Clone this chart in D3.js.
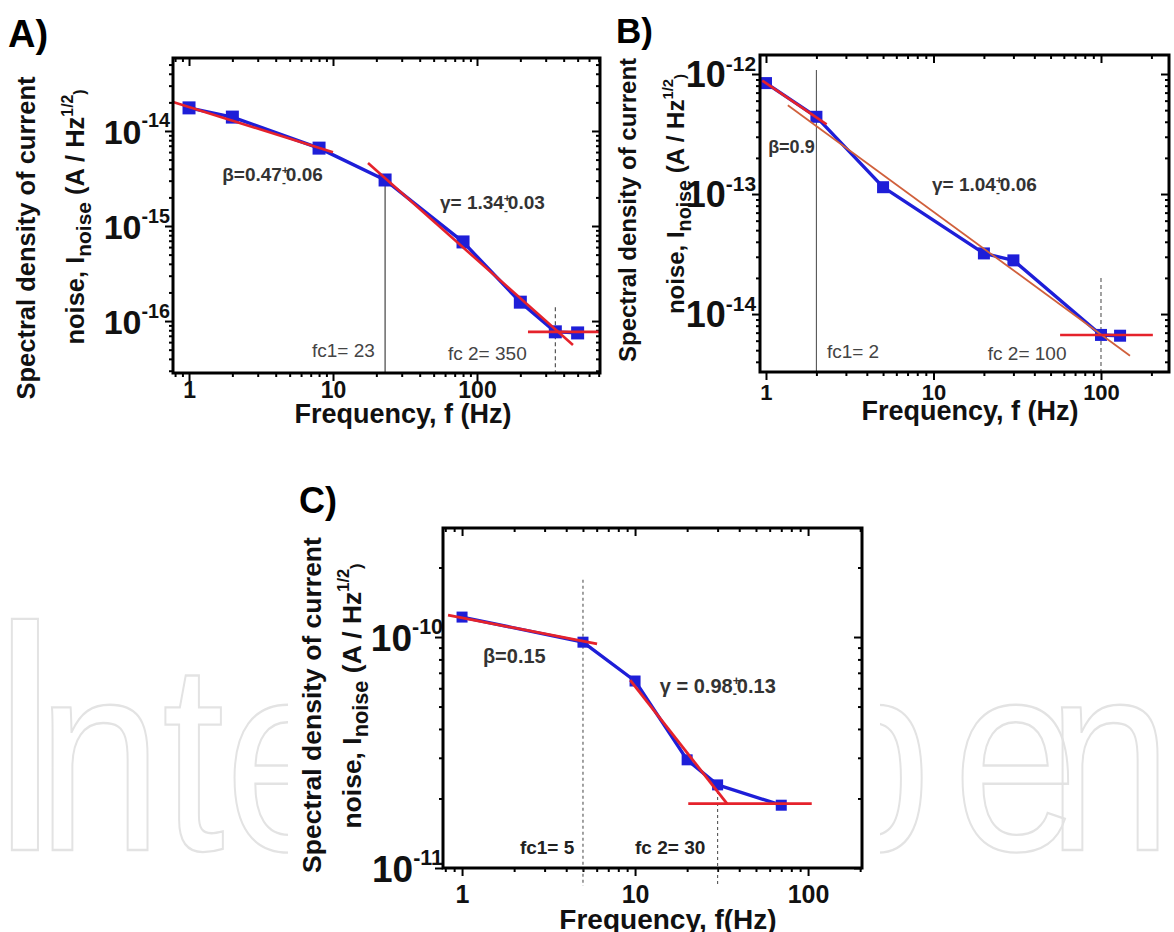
<!DOCTYPE html>
<html><head><meta charset="utf-8">
<script src="https://cdn.jsdelivr.net/npm/d3@7"></script>
<style>
body{margin:0;background:#fff;}
svg{display:block;}
</style></head><body>
<svg id="c" width="1174" height="932"></svg>
<script>
// ================= DATA =================
// Panel A
const freqA  = [1, 2, 8, 23, 80, 200, 350, 500];
const noiseA = [1.75e-14, 1.40e-14, 6.6e-15, 3.05e-15, 6.8e-16, 1.58e-16, 7.7e-17, 7.5e-17];
const fitA_beta  = [[0.774, 2.02e-14], [10, 5.96e-15]];
const fitA_gamma = [[17.5, 4.6e-15], [464, 5.6e-17]];
const fitA_floor = [[226, 7.7e-17], [715, 7.7e-17]];
const fcA    = [23, 350];
const fcTopA = [3.05e-15, 1.4e-16];

// Panel B
const freqB  = [1, 2, 5, 20, 30, 100, 130];
const noiseB = [8.4e-13, 4.4e-13, 1.14e-13, 3.2e-14, 2.8e-14, 6.7e-15, 6.6e-15];
const fitB_beta  = [[0.95, 8.8e-13], [2.3, 3.8e-13]];
const fitB_gamma = [[1.35, 5.5e-13], [149, 4.5e-15]];
const fitB_floor = [[57, 6.7e-15], [204, 6.7e-15]];
const fcB    = [2, 100];
const fcTopB = [1.08e-12, 2.0e-14];

// Panel C
const freqC  = [1, 5, 10, 20, 30, 70];
const noiseC = [1.22e-10, 9.5e-11, 6.45e-11, 2.94e-11, 2.29e-11, 1.87e-11];
const fitC_beta  = [[0.83, 1.245e-10], [6.03, 9.33e-11]];
const fitC_gamma = [[9.37, 6.5e-11], [34, 1.9e-11]];
const fitC_floor = [[20.3, 1.9e-11], [105, 1.9e-11]];
const fcC    = [5, 30];
const fcTopC = [1.77e-10, 2.29e-11];

// Tick labels
const xTickLabels = [1, 10, 100];
const yExpA = [-14, -15, -16];
const yExpB = [-12, -13, -14];
const yExpC = [-10, -11];

// ================= DRAWING =================
const FONT = '"Liberation Sans", Arial, Helvetica, sans-serif';
const svg = d3.select("#c").attr("font-family", FONT);
const BLUE = "#1e1ed8", RED = "#e5222b";

// watermark (only the parts visible around panel C)
const wmG = svg.append("g").attr("transform", "scale(1,1.2)");
function wmWord(letters){
  const t = wmG.append("text").attr("y", 850/1.2).attr("fill", "none")
    .attr("stroke", "#e3e3e3").attr("stroke-width", 2).attr("font-size", 225);
  letters.forEach(([ch, px, fs]) => t.append("tspan").attr("x", px).attr("font-size", fs || 225).text(ch));
}
wmWord([["I",-14,280],["n",37],["t",162],["e",225]]);
wmWord([["p",806],["e",953],["n",1047]]);
// panel C sits on an opaque white block
svg.append("rect").attr("x", 288).attr("y", 470).attr("width", 592).attr("height", 462).attr("fill", "#fff");

function isMajor(v){ const l = Math.log10(v); return Math.abs(l - Math.round(l)) < 1e-6; }

function addPM(t, before, after, fs){
  t.append("tspan").text(before);
  t.append("tspan").attr("font-size", fs*0.62).attr("dy", -fs*0.38).text("+");
  t.append("tspan").attr("font-size", fs*0.62).attr("dx", -fs*0.62*0.58).attr("dy", fs*0.62).text("-");
  t.append("tspan").attr("dy", -fs*0.24).text(after);
}

function drawPanel(c){
  const g = svg.append("g");
  const x = d3.scaleLog().domain(c.xDomain).range([c.L, c.R]);
  const y = d3.scaleLog().domain(c.yDomain).range([c.B, c.T]);
  g.append("rect").attr("x", c.L).attr("y", c.T).attr("width", c.R - c.L).attr("height", c.B - c.T).attr("fill", "#fff");

  const xt = x.ticks(), yt = y.ticks();
  function style(a, horiz){
    a.attr("font-family", FONT);
    a.select(".domain").remove();
    a.selectAll(".tick line").attr("stroke", "#000").attr("stroke-width", 2);
    a.selectAll(".tick").filter(d => !isMajor(d)).select("line").attr(horiz ? "y2" : "x2", horiz ? 4 : -4);
  }
  // bottom axis with labels
  const ab = g.append("g").attr("transform", `translate(0,${c.B})`)
    .call(d3.axisBottom(x).tickValues(xt).tickSize(8)
      .tickFormat(v => (isMajor(v) && xTickLabels.includes(Math.round(v))) ? String(Math.round(v)) : ""));
  style(ab, true);
  ab.selectAll(".tick text").attr("y", c.xLabOff).attr("dy", null)
    .attr("font-size", c.xLabFs).attr("font-weight", "bold").attr("fill", "#111");
  // top axis (mirror)
  const at = g.append("g").attr("transform", `translate(0,${c.T})`)
    .call(d3.axisBottom(x).tickValues(xt).tickSize(8).tickFormat(""));
  style(at, true);
  // left axis
  const al = g.append("g").attr("transform", `translate(${c.L},0)`)
    .call(d3.axisLeft(y).tickValues(yt).tickSize(8).tickFormat(""));
  style(al, false);
  al.selectAll(".tick").filter(d => isMajor(d) && c.yExp.includes(Math.round(Math.log10(d))))
    .select("text").each(function(d){
      const t = d3.select(this).attr("x", c.yLabX).attr("y", 0.358*c.yLabFs).attr("dy", null)
        .attr("text-anchor", "end").attr("font-weight", "bold").attr("fill", "#111");
      t.append("tspan").attr("font-size", c.yLabFs).text("10");
      t.append("tspan").attr("font-size", c.yLabFs*0.58).attr("dy", -(0.358*c.yLabFs + 4))
        .text(String(Math.round(Math.log10(d))));
    });
  // right axis (mirror)
  const ar = g.append("g").attr("transform", `translate(${c.R},0)`)
    .call(d3.axisLeft(y).tickValues(yt).tickSize(8).tickFormat(""));
  style(ar, false);

  // cut-off frequency lines
  c.fc.forEach((f, i) => {
    g.append("line").attr("x1", x(f)).attr("x2", x(f))
      .attr("y1", y(c.fcTop[i])).attr("y2", c.B + (c.fcExtend || 0))
      .attr("stroke", c.fcColor[i]).attr("stroke-width", 1.1)
      .attr("stroke-dasharray", c.fcDash[i]);
  });

  // data line + squares
  const pts = c.freq.map((f, i) => [f, c.noise[i]]);
  const line = d3.line().x(d => x(d[0])).y(d => y(d[1]));
  g.append("path").datum(pts).attr("d", line).attr("fill", "none")
    .attr("stroke", BLUE).attr("stroke-width", 3.4).attr("stroke-linejoin", "round");
  g.selectAll(null).data(pts).enter().append("rect")
    .attr("x", d => x(d[0]) - c.sq/2).attr("y", d => y(d[1]) - c.sq/2)
    .attr("width", c.sq).attr("height", c.sq).attr("fill", BLUE);

  // fits
  c.fits.forEach((ft, i) => {
    g.append("path").datum(ft).attr("d", line).attr("fill", "none")
      .attr("stroke", c.fitColor[i]).attr("stroke-width", c.fitWidth[i]);
  });

  // frame
  g.append("rect").attr("x", c.L).attr("y", c.T).attr("width", c.R - c.L).attr("height", c.B - c.T)
    .attr("fill", "none").attr("stroke", "#000").attr("stroke-width", 3);

  // annotations
  c.notes.forEach(n => {
    const t = g.append("text").attr("x", x(n.f)).attr("y", y(n.v))
      .attr("font-size", n.fs).attr("font-weight", n.bold ? "bold" : "normal")
      .attr("fill", n.color || "#333").attr("text-anchor", "start");
    if (n.pm) addPM(t, n.pm[0], n.pm[1], n.fs); else t.text(n.text);
  });

  // axis titles
  g.append("text").attr("x", c.xTitle[0]).attr("y", c.xTitle[1]).attr("text-anchor", "middle")
    .attr("font-size", c.xTitle[2]).attr("font-weight", "bold").attr("fill", "#111")
    .text(c.xTitleText);
  g.append("text").attr("transform", `translate(${c.yT1[0]},${c.yT1[1]}) rotate(-90)`)
    .attr("text-anchor", "middle").attr("font-size", c.yTfs).attr("font-weight", "bold").attr("fill", "#111")
    .text("Spectral density of current");
  const yt2 = g.append("text").attr("transform", `translate(${c.yT2[0]},${c.yT2[1]}) rotate(-90)`)
    .attr("text-anchor", "middle").attr("font-size", c.yTfs).attr("font-weight", "bold").attr("fill", "#111");
  const fs = c.yTfs;
  yt2.append("tspan").text("noise, I");
  yt2.append("tspan").attr("font-size", fs*0.82).attr("dy", fs*0.28).text("noise");
  yt2.append("tspan").attr("dy", -fs*0.28).text(" (A / Hz");
  yt2.append("tspan").attr("font-size", fs*0.62).attr("dy", -fs*0.45).text("1/2");
  yt2.append("tspan").attr("font-size", fs*0.62).attr("dy", fs*0.5).text(")");

  // panel letter
  svg.append("text").attr("x", c.letter[0]).attr("y", c.letter[1]).attr("font-size", c.letter[2])
    .attr("font-weight", "bold").attr("fill", "#000").text(c.letter[3]);
}

drawPanel({
  L:173, T:58, R:600, B:373,
  xDomain:[0.774, 715], yDomain:[2.84e-17, 5.86e-14],
  freq:freqA, noise:noiseA, sq:13,
  fits:[fitA_beta, fitA_gamma, fitA_floor], fitColor:[RED, RED, RED], fitWidth:[2.6, 2.6, 2.6],
  fc:fcA, fcTop:fcTopA, fcDash:[null, "4,3"], fcColor:["#333", "#444"],
  xLabOff:25, xLabFs:23, yExp:yExpA, yLabFs:34, yLabX:-3,
  notes:[
    {f:1.70, v:2.98e-15, pm:["β=0.47", "0.06"], fs:19, bold:true},
    {f:55.3, v:1.51e-15, pm:["γ= 1.34", "0.03"], fs:19, bold:true},
    {f:7.15, v:4.18e-17, text:"fc1= 23", fs:19, color:"#444"},
    {f:62.9, v:3.89e-17, text:"fc 2= 350", fs:19, color:"#444"}
  ],
  xTitle:[403, 423, 27], xTitleText:"Frequency, f (Hz)",
  yT1:[35, 238], yT2:[84, 217], yTfs:25.5,
  letter:[8, 47, 38, "A)"]
});

drawPanel({
  L:760, T:55, R:1169, B:372,
  xDomain:[0.921, 254.7], yDomain:[3.29e-15, 1.44e-12],
  freq:freqB, noise:noiseB, sq:12,
  fits:[fitB_beta, fitB_gamma, fitB_floor], fitColor:[RED, "#d0603c", RED], fitWidth:[2.6, 1.8, 2.4],
  fc:fcB, fcTop:fcTopB, fcDash:[null, "4,3"], fcColor:["#555", "#555"],
  xLabOff:28, xLabFs:22, yExp:yExpB, yLabFs:36, yLabX:-4,
  notes:[
    {f:1.03, v:2.2e-13, text:"β=0.9", fs:18, bold:true},
    {f:9.79, v:1.06e-13, pm:["γ= 1.04", "0.06"], fs:19, bold:true},
    {f:2.31, v:4.3e-15, text:"fc1= 2", fs:19, color:"#444"},
    {f:21.1, v:4.14e-15, text:"fc 2= 100", fs:19, color:"#444"}
  ],
  xTitle:[970, 420, 27], xTitleText:"Frequency, f (Hz)",
  yT1:[636, 210], yT2:[684, 194], yTfs:24,
  letter:[616, 43, 35, "B)"]
});

drawPanel({
  L:443, T:528, R:862, B:868,
  xDomain:[0.776, 205], yDomain:[1e-11, 2.965e-10],
  freq:freqC, noise:noiseC, sq:11,
  fits:[fitC_beta, fitC_gamma, fitC_floor], fitColor:[RED, RED, RED], fitWidth:[2.8, 2.8, 2.6],
  fc:fcC, fcTop:fcTopC, fcDash:["3,3", "3,3"], fcColor:["#555", "#555"], fcExtend:18,
  xLabOff:35, xLabFs:25, yExp:yExpC, yLabFs:37, yLabX:0,
  notes:[
    {f:1.32, v:7.71e-11, text:"β=0.15", fs:20, bold:true},
    {f:13.9, v:5.72e-11, pm:["γ = 0.98", "0.13"], fs:20, bold:true},
    {f:2.16, v:1.15e-11, text:"fc1= 5", fs:19, bold:true, color:"#222"},
    {f:10, v:1.15e-11, text:"fc 2= 30", fs:19, bold:true, color:"#222"}
  ],
  xTitle:[668, 929, 28], xTitleText:"Frequency, f(Hz)",
  yT1:[321, 705], yT2:[361, 696], yTfs:26.5,
  letter:[299, 513, 36, "C)"]
});
</script>
</body></html>
